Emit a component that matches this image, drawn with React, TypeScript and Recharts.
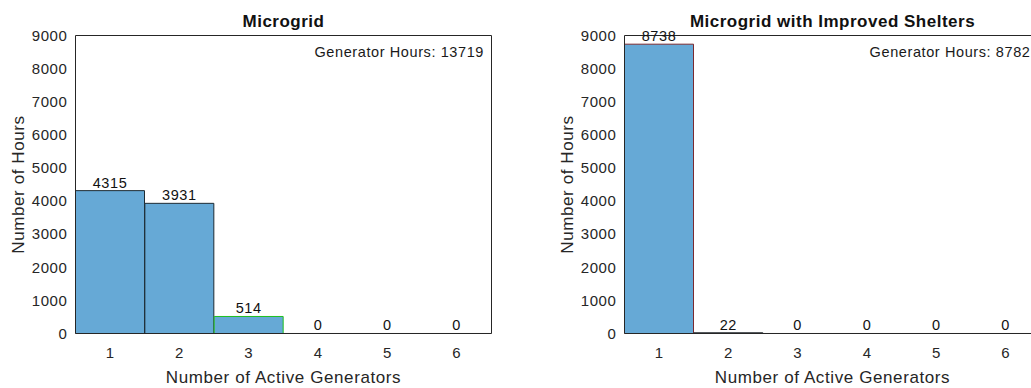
import { BarChart, Bar, XAxis, YAxis, Cell, LabelList, Label } from "recharts";

const generatorCounts = ["1", "2", "3", "4", "5", "6"];
const microgridHours = [4315, 3931, 514, 0, 0, 0];
const shelterHours = [8738, 22, 0, 0, 0, 0];
const hourTicks = [0, 1000, 2000, 3000, 4000, 5000, 6000, 7000, 8000, 9000];
const microgridTotal = 13719;
const shelterTotal = 8782;

// histogram edge colours (the overlaid matlab histograms leave coloured outlines)
const microgridEdges = ["#1d2b33", "#1d2b33", "#1fbf1f", "#262626", "#262626", "#262626"];
const shelterEdges = ["#7a2a30", "#262626", "#262626", "#262626", "#262626", "#262626"];

const AXIS = "#262626";
const FILL = "#66a9d6";
const FONT = "'Liberation Sans', Arial, Helvetica, sans-serif";

type PanelProps = {
  hours: number[];
  edges: string[];
  marginLeft: number;
  marginRight: number;
};

function HoursPanel({ hours, edges, marginLeft, marginRight }: PanelProps) {
  const data = generatorCounts.map((gen, i) => ({ gen, hours: hours[i] }));
  return (
    <BarChart
      width={540}
      height={388}
      data={data}
      margin={{ top: 35.5, right: marginRight, bottom: 0.5, left: marginLeft }}
      barCategoryGap={0}
      barGap={0}
    >
      <Bar
        dataKey="hours"
        xAxisId="main"
        yAxisId="main"
        fill={FILL}
        strokeWidth={1}
        minPointSize={0.01}
        isAnimationActive={false}
      >
        {data.map((d, i) => (
          <Cell key={d.gen} stroke={edges[i]} />
        ))}
        <LabelList dataKey="hours" position="top" offset={3} fill="#111" fontSize={14.5} />
      </Bar>
      <XAxis
        xAxisId="main"
        dataKey="gen"
        height={54}
        interval={0}
        axisLine={{ stroke: AXIS }}
        tickLine={false}
        tickSize={6}
        tickMargin={8}
        tick={{ fill: AXIS, fontSize: 15 }}
      >
        <Label
          value="Number of Active Generators"
          position="insideBottom"
          offset={5}
          fill={AXIS}
          fontSize={17}
          style={{ letterSpacing: "0.6px" }}
        />
      </XAxis>
      <XAxis
        xAxisId="bottomTicks"
        dataKey="gen"
        mirror
        interval={0}
        axisLine={false}
        tick={false}
        tickSize={4.5}
        tickLine={{ stroke: AXIS }}
      />
      <XAxis
        xAxisId="top"
        orientation="top"
        dataKey="gen"
        mirror
        interval={0}
        axisLine={{ stroke: AXIS }}
        tick={false}
        tickSize={4.5}
        tickLine={{ stroke: AXIS }}
      />
      <YAxis
        yAxisId="main"
        domain={[0, 9000]}
        ticks={hourTicks}
        allowDataOverflow
        width={60}
        interval={0}
        axisLine={{ stroke: AXIS }}
        tickLine={false}
        tick={{ fill: AXIS, fontSize: 15 }}
      >
        <Label
          value="Number of Hours"
          angle={-90}
          position="insideLeft"
          offset={2}
          fill={AXIS}
          fontSize={17}
          style={{ textAnchor: "middle", letterSpacing: "0.6px" }}
        />
      </YAxis>
      <YAxis
        yAxisId="leftTicks"
        domain={[0, 9000]}
        ticks={hourTicks}
        allowDataOverflow
        mirror
        interval={0}
        axisLine={false}
        tick={false}
        tickSize={4.5}
        tickLine={{ stroke: AXIS }}
      />
      <YAxis
        yAxisId="right"
        orientation="right"
        domain={[0, 9000]}
        ticks={hourTicks}
        allowDataOverflow
        mirror
        interval={0}
        axisLine={{ stroke: AXIS }}
        tick={false}
        tickSize={4.5}
        tickLine={{ stroke: AXIS }}
      />
    </BarChart>
  );
}

export default function App() {
  return (
    <div
      style={{
        position: "fixed",
        left: 0,
        top: 0,
        width: 1031,
        height: 388,
        overflow: "hidden",
        background: "#fff",
        fontFamily: FONT,
        letterSpacing: "0.6px",
      }}
    >
      <div style={{ position: "absolute", left: 0, top: 0 }}>
        <HoursPanel hours={microgridHours} edges={microgridEdges} marginLeft={15.5} marginRight={48.5} />
      </div>
      <div style={{ position: "absolute", left: 540, top: 0 }}>
        <HoursPanel hours={shelterHours} edges={shelterEdges} marginLeft={24.5} marginRight={39.5} />
      </div>
      <svg
        width={1031}
        height={388}
        style={{ position: "absolute", left: 0, top: 0, pointerEvents: "none" }}
      >
        <text x={283.5} y={27} textAnchor="middle" fontWeight="bold" fontSize={17} fill="#111" style={{ letterSpacing: "0.5px" }}>
          Microgrid
        </text>
        <text x={832.5} y={27} textAnchor="middle" fontWeight="bold" fontSize={17} fill="#111" style={{ letterSpacing: "0.5px" }}>
          Microgrid with Improved Shelters
        </text>
        <text x={484} y={56.5} textAnchor="end" fontSize={14.5} fill="#1a1a1a">
          {`Generator Hours: ${microgridTotal}`}
        </text>
        <text x={1030.5} y={56.5} textAnchor="end" fontSize={14.5} fill="#1a1a1a">
          {`Generator Hours: ${shelterTotal}`}
        </text>
      </svg>
    </div>
  );
}
